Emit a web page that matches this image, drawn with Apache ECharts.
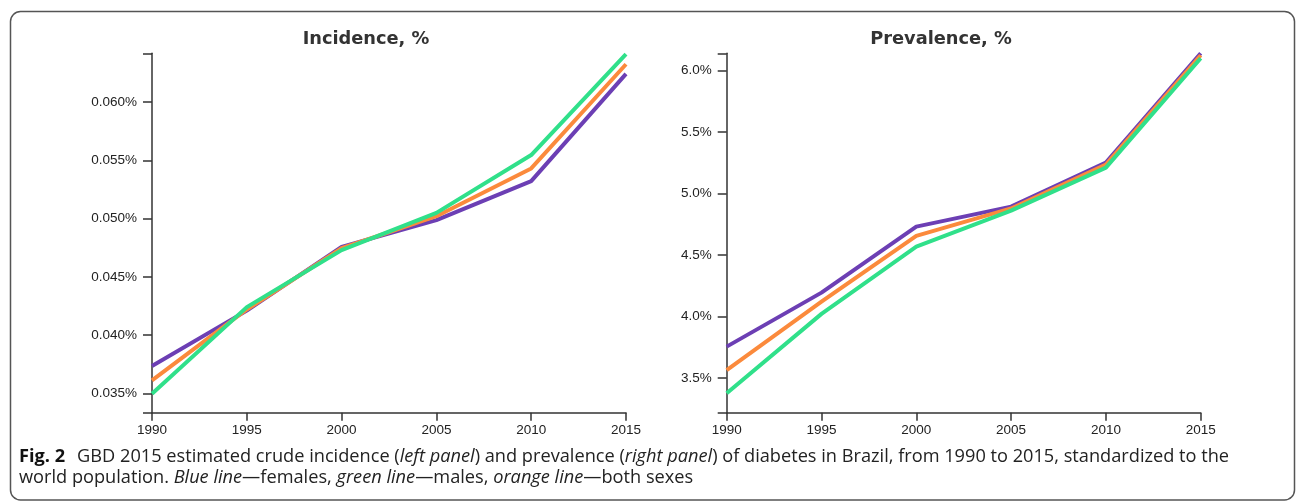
<!DOCTYPE html>
<html>
<head>
<meta charset="utf-8">
<script src="https://cdn.jsdelivr.net/npm/echarts@6/dist/echarts.min.js"></script>
<style>
  html, body { margin: 0; padding: 0; background: #fff; }
  #chart { width: 1296px; height: 502px; }
</style>
</head>
<body>
<div id="chart"></div>
<script>
// Years on the shared x axis
const years = [1990, 1995, 2000, 2005, 2010, 2015];

// Crude incidence of diabetes, % of population
const incidenceFemales = [0.03735, 0.0421, 0.04757, 0.04986, 0.05321, 0.06241];
const incidenceBoth    = [0.03612, 0.0422, 0.04745, 0.0502, 0.0543, 0.06324];
const incidenceMales   = [0.03497, 0.0424, 0.04729, 0.05049, 0.05545, 0.0641];

// Crude prevalence of diabetes, % of population
const prevalenceFemales = [3.757, 4.196, 4.732, 4.895, 5.252, 6.141];
const prevalenceBoth    = [3.567, 4.123, 4.657, 4.880, 5.236, 6.125];
const prevalenceMales   = [3.378, 4.023, 4.570, 4.862, 5.212, 6.101];

// Labelled y ticks of each panel
const incidenceTicks  = [0.035, 0.040, 0.045, 0.050, 0.055, 0.060];
const prevalenceTicks = [3.5, 4.0, 4.5, 5.0, 5.5, 6.0];

// Axis domains (the ends also carry an unlabelled outer tick)
const incidenceDomain  = [0.03334, 0.06418];
const prevalenceDomain = [3.22, 6.141];

// Panel titles and caption
const panelTitles = ['Incidence, %', 'Prevalence, %'];
const captionLine1 = '{b|Fig. 2}{gap|}{n|GBD 2015 estimated crude incidence (}{i|left panel}{n|) and prevalence (}{i|right panel}{n|) of diabetes in Brazil, from 1990 to 2015, standardized to the}';
const captionLine2 = '{n|world population. }{i|Blue line}{n|—females, }{i|green line}{n|—males, }{i|orange line}{n|—both sexes}';

const colors = { females: '#6c3fb4', both: '#fb8a3c', males: '#30e08a' };
const axisColor = '#333';
const labelFont = 'Liberation Sans, Arial, sans-serif';
const captionFont = 'Open Sans';
const captionSize = 18.2;

function pairs(vals) { return years.map((y, i) => [y, vals[i]]); }

function makeXAxis(gridIndex) {
  return {
    type: 'value', gridIndex: gridIndex, min: 1990, max: 2015, interval: 5,
    axisLine: { show: true, lineStyle: { color: axisColor, width: 1.5 } },
    axisTick: { show: true, length: 8, lineStyle: { color: axisColor, width: 1.5 } },
    axisLabel: { color: '#222', fontFamily: labelFont, fontSize: 13.5, margin: 11,
                 formatter: v => String(v) },
    splitLine: { show: false }
  };
}

function makeYAxis(gridIndex, domain, ticks, digits) {
  return {
    type: 'value', gridIndex: gridIndex, min: domain[0], max: domain[1],
    axisLine: { show: true, lineStyle: { color: axisColor, width: 1.5 } },
    axisTick: { show: true, length: 9, customValues: [domain[0]].concat(ticks, [domain[1]]),
                lineStyle: { color: axisColor, width: 1.5 } },
    axisLabel: {
      color: '#222', fontFamily: labelFont, fontSize: 13.5, margin: 15,
      customValues: ticks,
      formatter: v => v.toFixed(digits) + '%'
    },
    splitLine: { show: false }
  };
}

function line(name, vals, color, idx) {
  return {
    name: name, type: 'line', xAxisIndex: idx, yAxisIndex: idx,
    data: pairs(vals), symbol: 'none', smooth: false,
    lineStyle: { color: color, width: 4, join: 'round' }
  };
}

const captionRich = {
  b: { fontFamily: captionFont, fontSize: captionSize, fontWeight: 'bold', fill: '#111' },
  gap: { width: 12 },
  n: { fontFamily: captionFont, fontSize: captionSize, fill: '#222' },
  i: { fontFamily: captionFont, fontSize: captionSize, fontStyle: 'italic', fill: '#222' }
};

const chart = echarts.init(document.getElementById('chart'), null, { renderer: 'canvas' });

chart.setOption({
  animation: false,
  backgroundColor: '#fff',
  grid: [
    { left: 152, right: 670, top: 53.3, bottom: 89.3 },
    { left: 726.7, right: 95.3, top: 53.3, bottom: 89.3 }
  ],
  xAxis: [makeXAxis(0), makeXAxis(1)],
  yAxis: [
    makeYAxis(0, incidenceDomain, incidenceTicks, 3),
    makeYAxis(1, prevalenceDomain, prevalenceTicks, 1)
  ],
  series: [
    line('Females', incidenceFemales, colors.females, 0),
    line('Both sexes', incidenceBoth, colors.both, 0),
    line('Males', incidenceMales, colors.males, 0),
    line('Females', prevalenceFemales, colors.females, 1),
    line('Both sexes', prevalenceBoth, colors.both, 1),
    line('Males', prevalenceMales, colors.males, 1)
  ],
  graphic: [
    {
      type: 'rect', silent: true, z: -1,
      shape: { x: 10.5, y: 11.5, width: 1284, height: 488.5, r: 10 },
      style: { fill: 'none', stroke: '#555', lineWidth: 1.5 }
    },
    {
      type: 'text', x: 366, y: 39,
      style: { text: panelTitles[0], textAlign: 'center', textVerticalAlign: 'middle',
               font: 'bold 17.8px "DejaVu Sans", Verdana, sans-serif', fill: '#333' }
    },
    {
      type: 'text', x: 941, y: 39,
      style: { text: panelTitles[1], textAlign: 'center', textVerticalAlign: 'middle',
               font: 'bold 17.8px "DejaVu Sans", Verdana, sans-serif', fill: '#333' }
    },
    {
      type: 'text', x: 19, y: 457,
      style: { text: captionLine1, textVerticalAlign: 'middle', rich: captionRich }
    },
    {
      type: 'text', x: 19, y: 478,
      style: { text: captionLine2, textVerticalAlign: 'middle', rich: captionRich }
    }
  ]
});
</script>
</body>
</html>
